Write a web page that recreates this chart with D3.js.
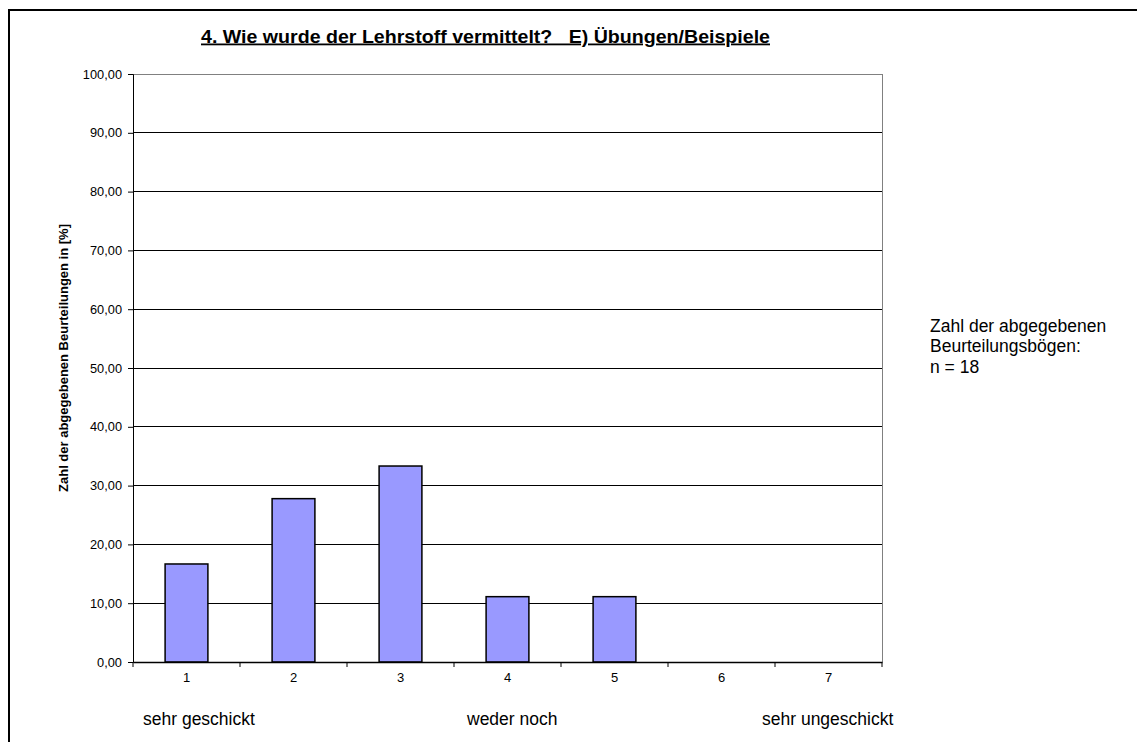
<!DOCTYPE html>
<html><head><meta charset="utf-8">
<script src="https://cdn.jsdelivr.net/npm/d3@7"></script>
<style>body{margin:0;background:#fff;font-family:"Liberation Sans",Arial,sans-serif;}</style>
</head><body>
<svg id="c" width="1137" height="742"></svg>
<script>
const categories = ["1","2","3","4","5","6","7"];
const values = [16.67, 27.78, 33.33, 11.11, 11.11, 0, 0];
const yTicks = [0,10,20,30,40,50,60,70,80,90,100];
const scaleLabels = ["sehr geschickt","weder noch","sehr ungeschickt"];
const title = "4. Wie wurde der Lehrstoff vermittelt?   E) Übungen/Beispiele";
const yLabel = "Zahl der abgegebenen Beurteilungen in [%]";
const noteLines = ["Zahl der abgegebenen","Beurteilungsbögen:","n = 18"];

const FONT = "Liberation Sans, Arial, sans-serif";
const svg = d3.select("#c");
const m = {l:133, r:882, t:74, b:662};
// outer frame
svg.append("rect").attr("x",9).attr("y",10).attr("width",1140).attr("height",750)
  .attr("fill","none").attr("stroke","#000").attr("stroke-width",2);

const x = d3.scaleBand().domain(categories).range([m.l,m.r]).paddingInner(0.6).paddingOuter(0.3);
const xb = d3.scaleBand().domain(categories).range([m.l,m.r]);
const y = d3.scaleLinear().domain([0,100]).range([m.b,m.t]);

// gridlines
svg.append("g").selectAll("line").data(yTicks.filter(d=>d>0 && d<100)).join("line")
  .attr("x1",m.l).attr("x2",m.r).attr("y1",d=>y(d)).attr("y2",d=>y(d))
  .attr("stroke","#000").attr("stroke-width",1).attr("shape-rendering","crispEdges");
// plot border top/right
svg.append("path").attr("d",`M${m.l},${m.t}H${m.r}V${m.b}`).attr("fill","none")
  .attr("stroke","#808080").attr("stroke-width",1).attr("shape-rendering","crispEdges");

// bars
svg.append("g").selectAll("rect").data(values).join("rect")
  .attr("x",(d,i)=>x(categories[i])).attr("width",x.bandwidth())
  .attr("y",d=>y(d)).attr("height",d=>y(0)-y(d))
  .attr("fill","#9999FF").attr("stroke","#000").attr("stroke-width",1.5)
  .style("display",d=>d>0?null:"none");

// y axis
const ya = d3.axisLeft(y).tickValues(yTicks).tickSize(5).tickPadding(6)
  .tickFormat(d=>d3.format(".2f")(d).replace(".",","));
const gy = svg.append("g").attr("transform",`translate(${m.l},0)`).call(ya);
gy.select(".domain").attr("stroke","#000");
gy.selectAll("text").attr("font-size",12.8).attr("fill","#000").attr("font-family",FONT);
gy.selectAll("line").attr("stroke","#000");

// x axis
const xa = d3.axisBottom(xb).tickSize(0).tickPadding(11);
const gx = svg.append("g").attr("transform",`translate(0,${m.b})`).call(xa);
gx.select(".domain").attr("stroke","#000").attr("stroke-width",1.5);
gx.selectAll("text").attr("font-size",13).attr("fill","#000").attr("font-family",FONT);
// x tick marks at band boundaries
svg.append("g").selectAll("line").data(categories.concat(["end"])).join("line")
  .attr("x1",(d,i)=>i<categories.length?xb(d):m.r).attr("x2",(d,i)=>i<categories.length?xb(d):m.r)
  .attr("y1",m.b).attr("y2",m.b+5).attr("stroke","#000");

// scale labels
const slx = [143, 467, 762];
svg.append("g").selectAll("text").data(scaleLabels).join("text")
  .attr("x",(d,i)=>slx[i]).attr("y",725).attr("font-size",17.5).text(d=>d);

// title
svg.append("text").attr("x",201).attr("y",42.5)
  .attr("font-size",18).attr("font-weight","bold").attr("text-decoration","underline")
  .attr("textLength",569).attr("lengthAdjust","spacingAndGlyphs")
  .style("white-space","pre").text(title);

// y label
svg.append("text").attr("transform","translate(68,358) rotate(-90)").attr("text-anchor","middle")
  .attr("font-size",13).attr("font-weight","bold").text(yLabel);

// note
svg.append("g").selectAll("text").data(noteLines).join("text")
  .attr("x",930).attr("y",(d,i)=>331.5+i*20.5).attr("font-size",17.5).text(d=>d);
</script>
</body></html>
